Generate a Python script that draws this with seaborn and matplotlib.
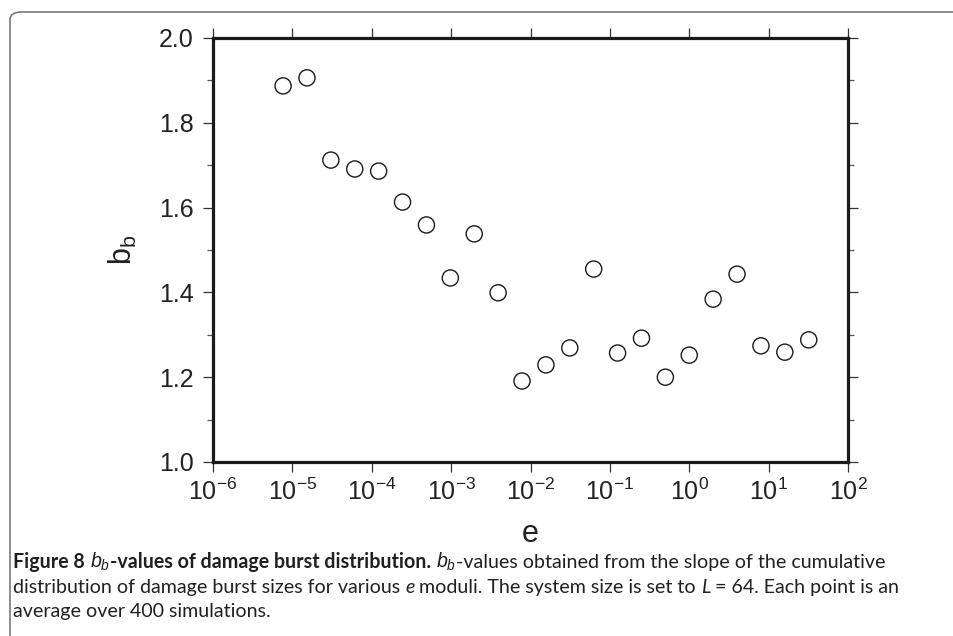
import numpy as np
import pandas as pd
import matplotlib
matplotlib.use("Agg")
import matplotlib.pyplot as plt
import seaborn as sns
from matplotlib.patches import FancyBboxPatch
from matplotlib.ticker import MultipleLocator, NullLocator, NullFormatter

# e moduli (powers of two) and measured b_b values
e_exponents = list(range(-17, 6))
b_values = [1.887, 1.906, 1.712, 1.691, 1.686, 1.613, 1.559, 1.434, 1.538, 1.399,
            1.191, 1.229, 1.269, 1.455, 1.257, 1.292, 1.200, 1.252, 1.384, 1.443,
            1.274, 1.259, 1.288]
x_ticks = [1e-6, 1e-5, 1e-4, 1e-3, 1e-2, 1e-1, 1e0, 1e1, 1e2]
y_ticks = [1.0, 1.2, 1.4, 1.6, 1.8, 2.0]

df = pd.DataFrame({"e": [2.0 ** k for k in e_exponents], "b": b_values})

sns.set_theme(style="ticks")
plt.rcParams["font.family"] = ["Liberation Sans", "DejaVu Sans"]
plt.rcParams["mathtext.fontset"] = "custom"
plt.rcParams["mathtext.rm"] = "Liberation Sans"
plt.rcParams["mathtext.it"] = "Liberation Sans:italic"
plt.rcParams["mathtext.bf"] = "Liberation Sans:bold"

fig = plt.figure(figsize=(9.54, 6.36), dpi=100)
ax = fig.add_axes([0.2233, 0.2736, 0.6656, 0.6667])

sns.scatterplot(data=df, x="e", y="b", ax=ax, marker="o", s=135,
                facecolor="none", edgecolor="#1a1a1a", linewidth=1.0, legend=False)

ax.set_xscale("log")
ax.set_xlim(1e-6, 1e2)
ax.set_ylim(1.0, 2.0)
ax.set_xticks(x_ticks)
ax.xaxis.set_minor_locator(NullLocator())
ax.set_yticks(y_ticks)
ax.set_yticklabels([f"{v:.1f}" for v in y_ticks])
ax.yaxis.set_minor_locator(MultipleLocator(0.1))
ax.yaxis.set_minor_formatter(NullFormatter())

for sp in ax.spines.values():
    sp.set_visible(True)
    sp.set_linewidth(2.3)
    sp.set_color("#1a1a1a")

ax.tick_params(which="major", direction="out", length=7, width=0.9, color="#333333",
               labelsize=18, top=True, right=True, labelcolor="#222222")
ax.tick_params(axis="y", which="major", pad=7)
ax.tick_params(axis="x", which="major", pad=5)
ax.tick_params(which="minor", direction="out", length=4, width=0.9, color="#555555",
               right=True)

ax.set_xlabel("e", fontsize=22, color="#222222", labelpad=10)
ax.set_ylabel(r"b$_\mathrm{b}$", fontsize=22, color="#222222", labelpad=14)

# frame around figure with rounded top-left corner
frame = FancyBboxPatch((10 / 954, -0.2), 1.2, 1 - 12 / 636 + 0.2,
                       boxstyle="round,pad=0,rounding_size=0.012",
                       transform=fig.transFigure, facecolor="none",
                       edgecolor="#6e6e6e", linewidth=1.1, clip_on=False)
fig.patches.append(frame)

# caption with mixed bold / regular pieces
cap_font = ["Lato", "DejaVu Sans"]
cap_size = 14.1
renderer = fig.canvas.get_renderer()


def write_line(pieces, x0, y0):
    x = x0
    for txt, weight, style in pieces:
        t = fig.text(x, y0, txt, fontsize=cap_size, fontweight=weight, fontstyle=style,
                     family=cap_font, color="#231f20", va="baseline", ha="left")
        bb = t.get_window_extent(renderer=renderer)
        x = x + bb.width / fig.bbox.width


line1 = [("Figure 8 ", "bold", "normal"), (r"$\mathit{b_b}$", "bold", "normal"),
         ("-values of damage burst distribution. ", "bold", "normal"),
         (r"$\mathit{b_b}$", "normal", "normal"),
         ("-values obtained from the slope of the cumulative", "normal", "normal")]
line2 = [("distribution of damage burst sizes for various ", "normal", "normal"),
         ("e", "normal", "italic"),
         (" moduli. The system size is set to ", "normal", "normal"),
         ("L", "normal", "italic"),
         (" = 64. Each point is an", "normal", "normal")]
line3 = [("average over 400 simulations.", "normal", "normal")]

write_line(line1, 13 / 954, 1 - 568 / 636)
write_line(line2, 13 / 954, 1 - 593 / 636)
write_line(line3, 13 / 954, 1 - 617 / 636)

fig.savefig("out.png", dpi=100)
